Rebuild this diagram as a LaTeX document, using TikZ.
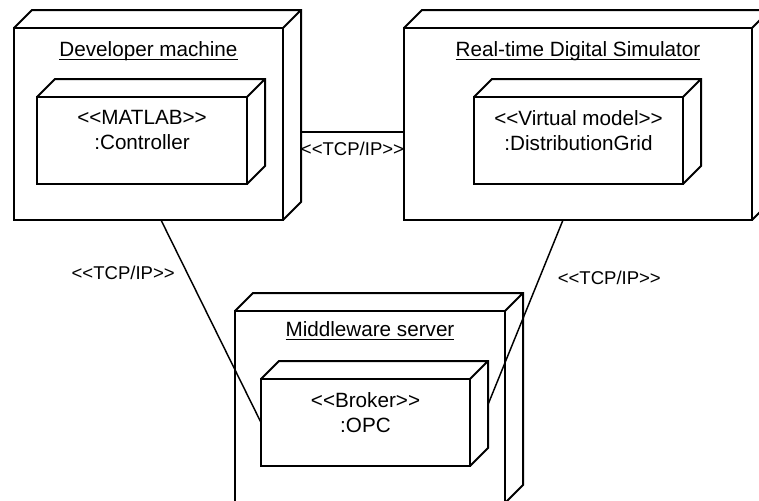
\documentclass[tikz,border=0pt]{standalone}
\usepackage{fontspec}
\setmainfont{Liberation Sans}[Ligatures=TeXOff]
\usetikzlibrary{calc}
\newcommand{\depthbox}{18}
\newcommand{\boxfont}{\fontsize{15.5}{18.6}\selectfont}
\newcommand{\linkfont}{\fontsize{13.9}{16.7}\selectfont}
\newcommand{\titletext}[1]{\setbox0=\hbox{#1}\rlap{\rule[-2.6pt]{\wd0}{1.1pt}}\box0}
\newcommand{\backfaces}[1]{%
    \draw[box line] (#1.north west) -- ++(\depthbox,-\depthbox)
        -| ($(#1.south east)+(\depthbox,-\depthbox)$) -- (#1.south east)
        (#1.north east) -- ++(\depthbox,-\depthbox);
}
\tikzset{
    box line/.style={line width=1.5pt},
    box/.style={box line, draw, rectangle, outer sep=0pt, inner sep=0pt},
    machine/.style={box, minimum height=144pt},
    artifact/.style={box, minimum height=65.25pt, minimum width=156.75pt},
    title/.style={anchor=north, inner sep=0pt, yshift=-10pt, font=\boxfont, align=center},
    link/.style={line width=1.1pt},
    tcp/.style={font=\linkfont, inner sep=2pt}
}
\begin{document}
\begin{tikzpicture}[x=0.75pt, y=-0.75pt]
        \useasboundingbox (0,0) rectangle (759,500);
        \clip (0,0) rectangle (759,500);

        % nodes
        \node[machine, minimum width=201.75pt,
                label={[title, name=dev-title]north:\titletext{Developer machine}}
            ] (dev) at (148.5,124) {};
        \node[artifact, minimum width=157.5pt,
                label={[title, name=ctrl-text]north:{<<MATLAB>>\\:Controller}}
            ] (ctrl) at (142,140.5) {};
        \node[machine, minimum width=261pt,
                label={[title, name=sim-title]north:\titletext{Real-time Digital Simulator}}
            ] (sim) at (578,124) {};
        \node[artifact,
                label={[title, name=grid-text]north:{<<Virtual model>>\\:DistributionGrid}}
            ] (grid) at (578.5,140.5) {};
        \node[machine, minimum width=202.5pt,
                label={[title, yshift=2pt, name=mw-title]north:\titletext{Middleware server}}
            ] (mw) at (370,407) {};
        \node[artifact,
                label={[title, name=opc-text]north:{<<Broker>>\\:OPC}}
            ] (opc) at (365.5,422.5) {};

        \backfaces{dev}
        \backfaces{ctrl}
        \backfaces{sim}
        \backfaces{grid}
        \backfaces{mw}
        \backfaces{opc}

        % links
        \draw[link] ([shift={(\depthbox,8)}]dev.east) -- node[tcp, below, yshift=-5pt] (tcp-dev-sim) {<<TCP/IP>>} ([shift={(0,8)}]sim.west);
        \draw[link] ([shift={(12.5,0)}]dev.south) -- node[tcp, pos=0.26, anchor=east, xshift=-6.7pt] (tcp-dev-mw) {<<TCP/IP>>} (opc.west);
        \draw[link] ([shift={(-15,0)}]sim.south) -- node[tcp, pos=0.314, anchor=west, xshift=11.2pt] (tcp-sim-mw) {<<TCP/IP>>} ([shift={(\depthbox,-\depthbox)}]opc.east);
    \end{tikzpicture}
\end{document}
